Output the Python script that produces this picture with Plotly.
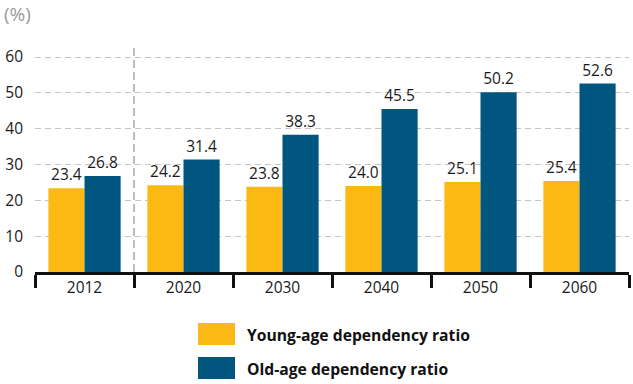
import plotly.graph_objects as go

years = ["2012", "2020", "2030", "2040", "2050", "2060"]
young = [23.4, 24.2, 23.8, 24.0, 25.1, 25.4]
old = [26.8, 31.4, 38.3, 45.5, 50.2, 52.6]
names = ["Young-age dependency ratio", "Old-age dependency ratio"]
colors = ["#FDB913", "#00567F"]
yticks = [0, 10, 20, 30, 40, 50, 60]

FONT = "Open Sans"
W, H = 633, 384
L, R, T, B = 35, 4, 47, 112

fig = go.Figure()
for vals, name, col in zip([young, old], names, colors):
    fig.add_trace(go.Bar(
        x=years, y=vals, name=name, marker=dict(color=col, line=dict(width=0)),
        text=[f"{v:.1f}" for v in vals], textposition="outside", cliponaxis=False,
        textfont=dict(family=FONT, size=15.5, color="#1a1a1a"), showlegend=False))

pw, ph = W - L - R, H - T - B
def px(x): return (x - L) / pw
def py(y): return (H - B - y) / ph

shapes = [dict(type="line", xref="x", yref="paper", x0=0.5, x1=0.5, y0=0, y1=1,
               line=dict(color="#bdbdbd", width=2, dash="8px,4px"), layer="below")]
annotations = [dict(text="(%)", xref="paper", yref="paper", x=px(2), y=py(14),
                    xanchor="left", yanchor="middle", showarrow=False,
                    font=dict(family=FONT, size=19, color="#9a9a9a"))]
for i, (name, col) in enumerate(zip(names, colors)):
    y0 = 323 + i * 34
    shapes.append(dict(type="rect", xref="paper", yref="paper", x0=px(198), x1=px(235),
                       y0=py(y0), y1=py(y0 + 22), fillcolor=col, line=dict(width=0)))
    annotations.append(dict(text=f"<b>{name}</b>", xref="paper", yref="paper", x=px(245),
                            y=py(y0 + 12), xanchor="left", yanchor="middle", showarrow=False,
                            font=dict(family=FONT, size=15.7, color="#111")))

fig.update_layout(
    width=W, height=H, margin=dict(l=L, r=R, t=T, b=B),
    paper_bgcolor="white", plot_bgcolor="white",
    barmode="group", bargap=0.27, bargroupgap=0,
    shapes=shapes, annotations=annotations,
    font=dict(family=FONT, size=15.5, color="#1a1a1a"),
    xaxis=dict(showline=True, linecolor="#111", linewidth=2.5, ticks="outside",
               tickson="boundaries", ticklen=13, tickwidth=2.5, tickcolor="#111",
               showgrid=False, tickfont=dict(family=FONT, size=15.5, color="#1a1a1a")),
    yaxis=dict(range=[0, 62.8], tickvals=yticks, showgrid=True, gridcolor="#c4c4c4",
               griddash="6px,4px", gridwidth=1, zeroline=False, showline=False,
               ticks="", ticklabelstandoff=11,
               tickfont=dict(family=FONT, size=15.5, color="#1a1a1a")),
)
fig.write_html("out.html")
